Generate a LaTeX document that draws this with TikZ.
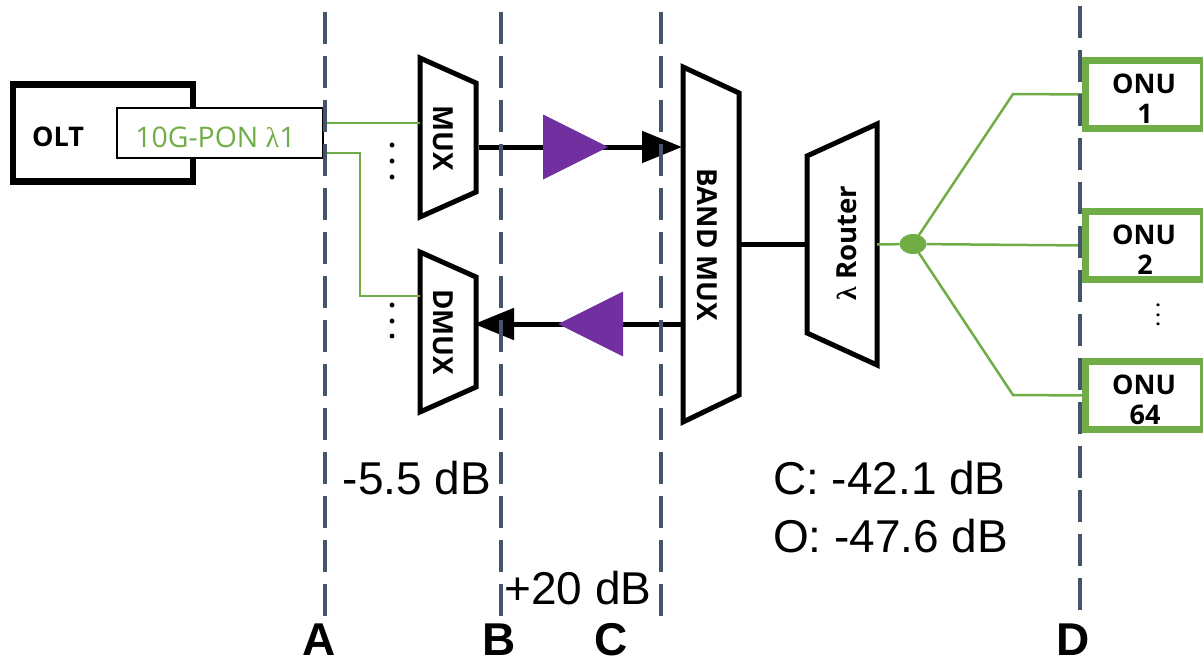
\documentclass[tikz,border=0pt]{standalone}
\usepackage{fontspec}
\setmainfont{Open Sans}
\newfontfamily\lamfont{Liberation Serif}
\newfontfamily\arialfont{Liberation Sans}
\usetikzlibrary{arrows.meta,calc,shapes.geometric}
\definecolor{pongreen}{HTML}{70AD47}
\definecolor{slateline}{HTML}{44546A}
\definecolor{amppurple}{HTML}{7030A0}
\tikzset{
  every node/.style={inner sep=0pt,outer sep=0pt},
  frame/.style={draw=black,line width=6.5pt,fill=white,miter limit=10},
  trapline/.style={draw=black,line width=5pt,fill=white,line join=miter,miter limit=10},
  trapbox/.style={rectangle},
  greenline/.style={draw=pongreen,line width=2.5pt},
  thickline/.style={draw=black,line width=5pt},
  arrowline/.style={thickline,-{Triangle[length=40pt,width=31pt]}},
  marker/.style={draw=slateline,line width=4pt,dash pattern=on 32pt off 12pt},
  amp/.style={isosceles triangle,isosceles triangle stretches,fill=amppurple,minimum width=65pt,minimum height=65pt},
  onubox/.style={draw=pongreen,line width=7pt,fill=white,minimum width=118pt,minimum height=68pt},
  boldtxt/.style={font=\fontsize{27}{30}\selectfont\bfseries},
  traptxt/.style={font=\fontsize{27.6}{30}\selectfont\bfseries},
  loss/.style={font=\fontsize{46}{50}\selectfont\arialfont},
  letter/.style={font=\fontsize{46}{50}\selectfont\arialfont\bfseries},
  dotstxt/.style={font=\fontsize{28}{30}\selectfont\bfseries},
}
\begin{document}
\begin{tikzpicture}[x=1pt,y=-1pt]
\useasboundingbox (0,0) rectangle (1203,661);
% OLT
\node[frame,minimum width=180pt,minimum height=97pt] (olt) at (103,133) {};
\node[boldtxt,anchor=center] (oltt) at (58,137) {OLT};
\node[draw=black,line width=1.5pt,fill=white,minimum width=206pt,minimum height=50pt] (pon) at (220,133) {};
\node[text=pongreen,font=\fontsize{28.4}{30}\selectfont] (pont) at (215.5,137) {10G-PON {\lamfont λ}1};
% trapezoids: box nodes give the corners
\node[trapbox,minimum width=56pt,minimum height=159pt] (mux) at (448,137.5) {};
\path[trapline] (mux.north west) -- ($(mux.north east)+(0,25)$) -- ($(mux.south east)+(0,-25)$) -- (mux.south west) -- cycle;
\node[traptxt,rotate=-90] (muxt) at (443,138) {MUX};
\node[trapbox,minimum width=56pt,minimum height=160pt] (dmux) at (448,332) {};
\path[trapline] (dmux.north west) -- ($(dmux.north east)+(0,25)$) -- ($(dmux.south east)+(0,-25)$) -- (dmux.south west) -- cycle;
\node[traptxt,rotate=-90] (dmuxt) at (443,332) {DMUX};
\node[trapbox,minimum width=56pt,minimum height=355pt] (bmux) at (711,244.5) {};
\path[trapline] (bmux.north west) -- ($(bmux.north east)+(0,26)$) -- ($(bmux.south east)+(0,-27)$) -- (bmux.south west) -- cycle;
\node[traptxt,rotate=-90] (bmuxt) at (707,245) {BAND MUX};
\node[trapbox,minimum width=70pt,minimum height=241pt] (rout) at (842,244.5) {};
\path[trapline] (rout.north east) -- ($(rout.north west)+(0,32)$) -- ($(rout.south west)+(0,-32)$) -- (rout.south east) -- cycle;
\node[traptxt,rotate=90] (routt) at (847,243) {{\lamfont λ} Router};
% dots
\node[dotstxt,rotate=90] (d1) at (393,161.5) {.\hspace{8pt}.\hspace{8pt}.};
\node[dotstxt,rotate=90] (d2) at (393,321) {.\hspace{8pt}.\hspace{8pt}.};
\node[font=\fontsize{24}{26}\selectfont,rotate=90] (d3) at (1158,315) {.\hspace{3pt}.\hspace{3pt}.};
% green links
\coordinate (p1) at (pon.east |- 0,123);
\coordinate (p2) at (pon.east |- 0,153);
\coordinate (m1) at (mux.west |- 0,123);
\coordinate (m2) at (dmux.west |- 0,296);
\coordinate (bend) at (360,296);
\draw[greenline] (p1) -- (m1);
\draw[greenline] (p2) -| (bend) -- (m2);
% thick links
\coordinate (aout) at (mux.east |- 0,147);
\coordinate (ain) at (bmux.west |- 0,147);
\coordinate (bout) at (bmux.west |- 0,324);
\coordinate (bin) at (dmux.east |- 0,324);
\draw[arrowline,shorten <=3pt,shorten >=1pt] (aout) -- (ain);
\draw[arrowline,shorten >=-2pt] (bout) -- (bin);
\node[amp,anchor=apex] (ampa) at (608,147) {};
\node[amp,shape border rotate=180,anchor=apex] (ampb) at (558,324) {};
\draw[thickline] (bmux.east |- rout.west) -- (rout.west);
% splitter
\node[ellipse,fill=pongreen,minimum width=27pt,minimum height=20pt] (split) at (913,244) {};
\node[onubox] (onu1) at (1144.5,94.5) {};
\node[onubox] (onu2) at (1144.5,245.5) {};
\node[onubox] (onu3) at (1144.5,395.5) {};
\node[boldtxt] (o1a) at (1144,84) {ONU};
\node[boldtxt] (o1b) at (1145,114) {1};
\node[boldtxt] (o2a) at (1144,235) {ONU};
\node[boldtxt] (o2b) at (1145,265) {2};
\node[boldtxt] (o3a) at (1144,385) {ONU};
\node[boldtxt] (o3b) at (1145,415) {64};
\coordinate (j1) at (1013,94);
\coordinate (j3) at (1013,395);
\draw[greenline] (rout.east) -- (split);
\draw[greenline] (split) -- (onu2.west);
\draw[greenline] (split.center) -- (j1) -- (onu1.west);
\draw[greenline] (split.center) -- (j3) -- (onu3.west);
% markers
\coordinate (a0) at (325,12); \coordinate (a1) at (325,616);
\coordinate (b0) at (501,12); \coordinate (b1) at (501,616);
\coordinate (c0) at (661,12); \coordinate (c1) at (661,616);
\coordinate (e0) at (1080,6); \coordinate (e1) at (1080,610);
\draw[marker] (a0) -- (a1);
\draw[marker] (b0) -- (b1);
\draw[marker] (c0) -- (c1);
\draw[marker] (e0) -- (e1);
% labels
\node[loss] (l1) at (417,478) {-5.5 dB};
\node[loss,anchor=west] (l2) at (773,478) {C: -42.1 dB};
\node[loss,anchor=west] (l3) at (773,536) {O: -47.6 dB};
\node[loss] (l4) at (578,588) {+20 dB};
\node[letter] (la) at (319,640) {A};
\node[letter] (lb) at (499,640) {B};
\node[letter] (lc) at (611,640) {C};
\node[letter] (ld) at (1073,640) {D};
\end{tikzpicture}
\end{document}
